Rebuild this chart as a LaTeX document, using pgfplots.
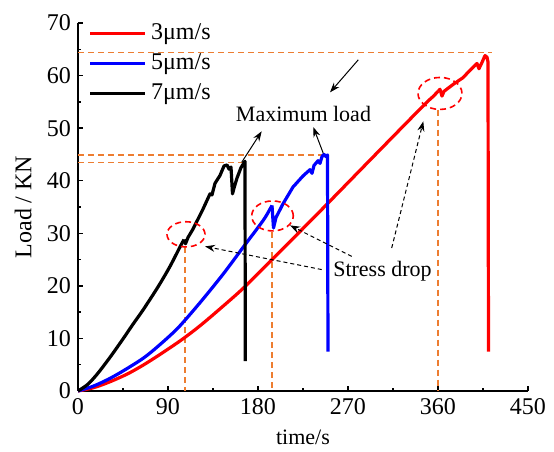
\documentclass[border=0pt]{standalone}
\usepackage{fontspec}
\setmainfont{Liberation Serif}
\usepackage{pgfplots}
\pgfplotsset{compat=1.18}
\usetikzlibrary{arrows.meta}
\definecolor{dorange}{RGB}{237,125,49}
\begin{document}
\begin{tikzpicture}
\begin{axis}[
  scale only axis, width=225pt, height=184pt,
  xmin=0, xmax=450, ymin=0, ymax=70,
  axis x line*=bottom, axis y line*=left,
  axis line style={line width=0.8pt},
  xtick={0,90,...,450}, ytick={0,10,...,70},
  minor tick num=1, tick align=inside,
  major tick length=2.5pt, minor tick length=1.5pt,
  tick style={line width=0.7pt, black},
  /pgf/number format/assume math mode=true,
  ticklabel style={font=\fontsize{12}{14}\selectfont},
  xlabel={time/s}, ylabel={Load / KN},
  xlabel style={font=\fontsize{11}{13}\selectfont, at={(axis description cs:0.5,-0.125)}, anchor=center},
  ylabel style={font=\fontsize{12}{14}\selectfont, at={(axis description cs:-0.122,0.5)}, anchor=center},
  clip=false,
  legend cell align=left,
  legend style={draw=none, fill=none, at={(axis description cs:0.01,1.02)}, anchor=north west,
    font=\fontsize{12}{14}\selectfont, row sep=1.5pt},
  legend image code/.code={\draw[#1] (0pt,0pt) -- (27.5pt,0pt);},
  line join=round,
]
% guide lines
\addplot[dorange, line width=0.8pt, dash pattern=on 3pt off 2pt, forget plot] coordinates {(0,43.5) (167,43.5)};
\addplot[dorange, line width=0.8pt, dash pattern=on 3pt off 2pt, forget plot] coordinates {(0,44.9) (245,44.9)};
\addplot[dorange, line width=0.8pt, dash pattern=on 3pt off 2pt, forget plot] coordinates {(0,64.4) (414,64.4)};
\addplot[dorange, line width=0.8pt, dash pattern=on 3pt off 2pt, forget plot] coordinates {(107,27.3) (107,0)};
\addplot[dorange, line width=0.8pt, dash pattern=on 3pt off 2pt, forget plot] coordinates {(194,30.2) (194,0)};
\addplot[dorange, line width=0.8pt, dash pattern=on 3pt off 2pt, forget plot] coordinates {(360,53.5) (360,0)};
% 3 um/s
\addplot[red, line width=1.6pt, smooth, tension=0.5] coordinates {
(0,0) (15,0.6) (30,1.6) (49,3.2) (65,4.9) (80,6.7) (95,8.6) (107,10.2) (122,12.4) (140,15.3) (165,19.5)
(194,25.0) (239,33.6) (295,44.5) (345,54.2) (355,56.0) (360,57.0)};
\addlegendentry{3μm/s}
\addplot[red, line width=1.6pt, forget plot] coordinates {
(360,57.0) (362,57.4) (364,56.1) (366,57.0)
(375,58.3) (385,59.6) (392,61.0) (399,62.3) (401,61.3) (404,62.5) (407,63.8) (409,63.5) (410,62.6) (410.5,7.5)};
% 5 um/s
\addplot[blue, line width=1.6pt, smooth, tension=0.5] coordinates {
(0,0) (15,0.9) (30,2.2) (45,3.8) (65,6.2) (80,8.5) (100,12.0) (122,16.8) (145,22.2) (165,27.3) (185,32.4)
(192,34.6) (194,35.3)};
\addlegendentry{5μm/s}
\addplot[blue, line width=1.6pt, forget plot] coordinates {
(194,35.3) (195.5,31.0) (198,33.0) (205,35.6) (215,38.8) (225,40.9) (232,42.1) (234,41.4) (236,42.9)
(240,43.8) (242,43.3) (244,44.6) (246,45.0) (248,44.6) (249.5,44.9) (250,7.5)};
% 7 um/s
\addplot[black, line width=1.6pt, smooth, tension=0.5] coordinates {
(0,0) (10,1.3) (20,3.4) (32,6.4) (45,9.9) (55,12.7) (65,15.4) (80,19.8) (92,23.7) (102,27.4) (106,28.8)};
\addlegendentry{7μm/s}
\addplot[black, line width=1.6pt, forget plot] coordinates {
(106,28.8) (107.5,28.0) (110,29.2) (115,30.8) (125,34.6) (132,37.5) (134,37.3) (137,39.5) (142,41.0) (146,42.8)
(149,43.0) (151,42.2) (153,42.6) (154.5,37.5) (156,38.6) (159,40.5) (163,42.5) (167,43.7) (167.3,5.7)};
% ellipses
\draw[red, line width=0.8pt, dash pattern=on 3pt off 2pt] (axis cs:108,29.8) ellipse [x radius=9.5pt, y radius=6.3pt];
\draw[red, line width=0.8pt, dash pattern=on 3pt off 2pt] (axis cs:194.5,33.3) ellipse [x radius=10.4pt, y radius=7.5pt];
\draw[red, line width=0.8pt, dash pattern=on 3pt off 2pt] (axis cs:362,56.6) ellipse [x radius=11pt, y radius=8pt];
% annotations
\node[font=\fontsize{11}{13}\selectfont] at (axis cs:225.5,52.6) {Maximum load};
\node[font=\fontsize{11}{13}\selectfont] at (axis cs:304.5,22.8) {Stress drop};
\draw[line width=0.5pt, -{Stealth[length=5pt,width=3.5pt]}] (axis cs:163.7,43.5) -- (axis cs:183.7,49.4);
\draw[line width=0.5pt, -{Stealth[length=5pt,width=3.5pt]}] (axis cs:245.3,45.2) -- (axis cs:235.3,50.2);
\draw[line width=0.5pt, -{Stealth[length=5pt,width=3.5pt]}] (axis cs:280.3,63.0) -- (axis cs:252,56.8);
\draw[line width=0.5pt, dash pattern=on 2pt off 1.5pt, -{Stealth[length=5pt,width=3.5pt]}] (axis cs:243.7,23.1) -- (axis cs:127,27.5);
\draw[line width=0.5pt, dash pattern=on 2pt off 1.5pt, -{Stealth[length=5pt,width=3.5pt]}] (axis cs:273.7,25.6) -- (axis cs:212,31.5);
\draw[line width=0.5pt, dash pattern=on 2pt off 1.5pt, -{Stealth[length=5pt,width=3.5pt]}] (axis cs:313.7,27.2) -- (axis cs:345.3,51.3);
\end{axis}
\path (current axis.south west) ++(-39pt,-28.5pt) coordinate (bl);
\path (current axis.north east) ++(13pt,11.5pt) coordinate (tr);
\path (bl) rectangle (tr);
\end{tikzpicture}
\end{document}
